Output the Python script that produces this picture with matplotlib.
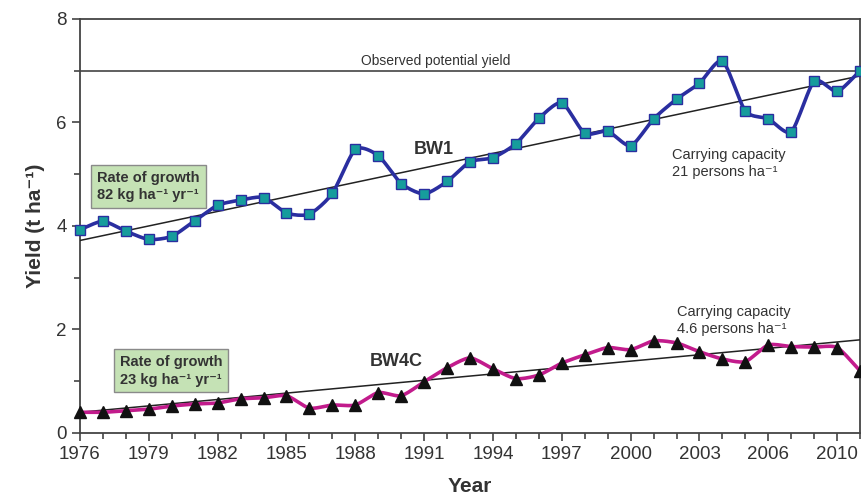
import numpy as np
import matplotlib
matplotlib.use("Agg")
import matplotlib.pyplot as plt

plt.rcParams['font.family'] = ['Liberation Sans', 'DejaVu Sans']
plt.rcParams['mathtext.fontset'] = 'custom'
plt.rcParams['mathtext.rm'] = 'Liberation Sans'
plt.rcParams['mathtext.bf'] = 'Liberation Sans:bold'
plt.rcParams['mathtext.it'] = 'Liberation Sans:italic'

years = list(range(1976, 2011))
bw1 = [3.93, 4.09, 3.90, 3.74, 3.80, 4.10, 4.40, 4.50, 4.55, 4.25, 4.23,
       4.63, 5.48, 5.36, 4.82, 4.62, 4.86, 5.24, 5.32, 5.59, 6.08, 6.38,
       5.79, 5.83, 5.55, 6.07, 6.45, 6.76, 7.19, 6.22, 6.07, 5.82, 6.80,
       6.60, 7.00]
bw4c = [0.40, 0.40, 0.43, 0.46, 0.52, 0.56, 0.58, 0.66, 0.68, 0.72, 0.48,
        0.54, 0.54, 0.78, 0.72, 0.99, 1.26, 1.45, 1.24, 1.05, 1.12, 1.35,
        1.51, 1.65, 1.61, 1.78, 1.74, 1.57, 1.43, 1.38, 1.70, 1.67, 1.66,
        1.65, 1.20]

trend_years = [1976, 2010]
trend_bw1 = [3.72, 6.90]
trend_bw4c = [0.40, 1.80]
potential_yield = 7.0

xtick_pos = [1976, 1979, 1982, 1985, 1988, 1991, 1994, 1997, 2000, 2003, 2006, 2009]
xtick_labels = ['1976', '1979', '1982', '1985', '1988', '1991', '1994', '1997',
                '2000', '2003', '2006', '2010']

TXT = '#333333'


def smooth(x, y, n=12, k=0.35):
    # cardinal spline through the points, like a spreadsheet "smoothed line"
    x = np.asarray(x, float)
    y = np.asarray(y, float)
    t = np.linspace(0, 1, n, endpoint=False)
    h00 = 2 * t**3 - 3 * t**2 + 1
    h10 = t**3 - 2 * t**2 + t
    h01 = -2 * t**3 + 3 * t**2
    h11 = t**3 - t**2
    mx = np.gradient(x) * 2 * k
    my = np.gradient(y) * 2 * k
    xs, ys = [], []
    for i in range(len(x) - 1):
        xs.extend(h00 * x[i] + h10 * mx[i] + h01 * x[i + 1] + h11 * mx[i + 1])
        ys.extend(h00 * y[i] + h10 * my[i] + h01 * y[i + 1] + h11 * my[i + 1])
    xs.append(x[-1])
    ys.append(y[-1])
    return np.array(xs), np.array(ys)


fig = plt.figure(figsize=(8.62, 4.99), dpi=100)
ax = fig.add_axes([0.0928, 0.1323, 0.905, 0.8297])

ax.axhline(potential_yield, color='#444444', lw=1.2, zorder=2)
ax.plot(trend_years, trend_bw1, color='#222222', lw=1.1, zorder=3)
ax.plot(trend_years, trend_bw4c, color='#222222', lw=1.1, zorder=3)

sx, sy = smooth(years, bw1)
ax.plot(sx, sy, color='#2a2ea0', lw=2.6, zorder=4, clip_on=False)
ax.plot(years, bw1, ls='none', marker='s', ms=7, mfc='#169c9c', mec='#2a2ea0',
        mew=1.0, zorder=5, clip_on=False)

sx, sy = smooth(years, bw4c)
ax.plot(sx, sy, color='#c21b8c', lw=2.6, zorder=4, clip_on=False)
ax.plot(years, bw4c, ls='none', marker='^', ms=8.5, color='#111111', zorder=5,
        clip_on=False)

ax.set_xlim(1976, 2010)
ax.set_ylim(0, 8)
ax.set_xticks(xtick_pos)
ax.set_xticklabels(xtick_labels)
ax.set_xticks(years, minor=True)
ax.set_yticks([0, 2, 4, 6, 8])
ax.set_yticks([1, 3, 5, 7], minor=True)
ax.tick_params(which='both', direction='out', color='#444444', width=1.2,
               labelsize=13.5, labelcolor=TXT)
ax.tick_params(which='major', length=6)
ax.tick_params(which='minor', length=4)
for s in ax.spines.values():
    s.set_color('#444444')
    s.set_linewidth(1.3)

ax.set_ylabel('Yield (t ha⁻¹)', fontsize=15, fontweight='bold',
              color=TXT, labelpad=8)
ax.set_xlabel('Year', fontsize=15, fontweight='bold', color=TXT, labelpad=10)

ax.text(1991.5, potential_yield + 0.06, 'Observed potential yield', fontsize=10,
        color=TXT, ha='center', va='bottom')
ax.text(1991.4, 5.48, 'BW1', fontsize=13, fontweight='bold', color=TXT,
        ha='center', va='center')
ax.text(1989.8, 1.38, 'BW4C', fontsize=13, fontweight='bold', color=TXT,
        ha='center', va='center')
ax.text(2001.8, 5.2, 'Carrying capacity\n21 persons ha⁻¹', fontsize=10.5,
        color=TXT, ha='left', va='center', linespacing=1.25)
ax.text(2002.0, 2.17, 'Carrying capacity\n4.6 persons ha⁻¹', fontsize=10.5,
        color=TXT, ha='left', va='center', linespacing=1.25)

box = dict(boxstyle='square,pad=0.4', fc='#c5e2b5', ec='#8a8a8a', lw=1.0)
ax.text(1976.75, 4.76, 'Rate of growth\n82 kg ha⁻¹ yr⁻¹',
        fontsize=10.5, fontweight='bold', color=TXT, ha='left', va='center',
        linespacing=1.3, bbox=box)
ax.text(1977.75, 1.2, 'Rate of growth\n23 kg ha⁻¹ yr⁻¹',
        fontsize=10.5, fontweight='bold', color=TXT, ha='left', va='center',
        linespacing=1.3, bbox=box)

fig.savefig('out.png', dpi=100)
